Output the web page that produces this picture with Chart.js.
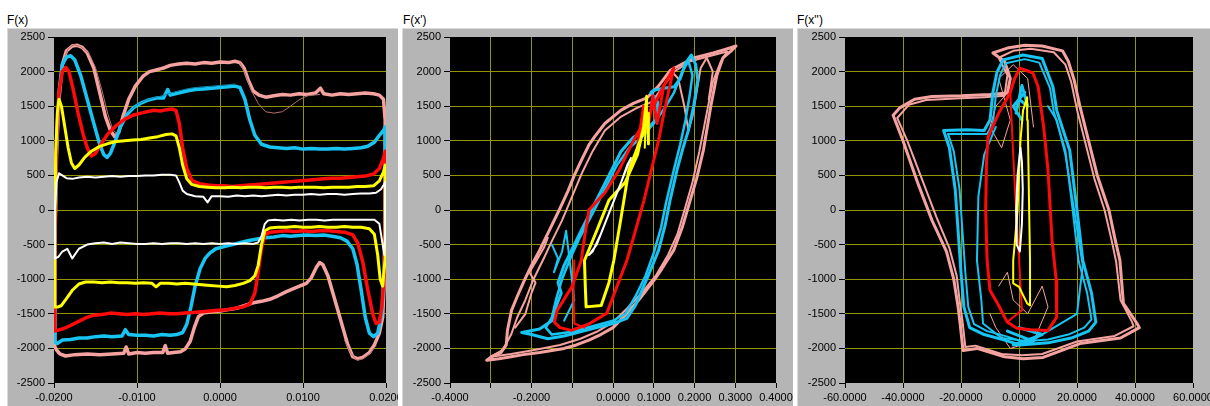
<!DOCTYPE html>
<html>
<head>
<meta charset="utf-8">
<script src="https://cdn.jsdelivr.net/npm/chart.js@4.4.1/dist/chart.umd.min.js"></script>
<style>
  html, body { margin: 0; padding: 0; background: #fff; }
  body { width: 1210px; height: 406px; position: relative; overflow: hidden; font-family: "Liberation Sans", Arial, sans-serif; }
  .title { position: absolute; top: 13px; font-size: 12px; color: #000; }
  .frame { position: absolute; top: 28px; height: 378px; background: #b5b5b5; box-shadow: inset 1px 1px 0 #d9d9d9; }
  .frame canvas { position: absolute; left: 0; top: 0; }
</style>
</head>
<body>
<div class="title" style="left:7px">F(x)</div>
<div class="title" style="left:403px">F(x')</div>
<div class="title" style="left:797px">F(x'')</div>
<div class="frame" style="left:7px;width:391px"><canvas id="fx" width="391" height="378"></canvas></div>
<div class="frame" style="left:402px;width:391px"><canvas id="fv" width="391" height="378"></canvas></div>
<div class="frame" style="left:797px;width:413px"><canvas id="fa" width="413" height="378"></canvas></div>
<script>
"use strict";

// ---------------- DATA: F vs x ----------------
const pinkFx = [[-0.0200,-1950],[-0.0199,-600],[-0.0197,800],[-0.0194,1600],[-0.0190,2100],[-0.0185,2300],[-0.0178,2370],[-0.0172,2380],[-0.0166,2350],[-0.0160,2270],[-0.0152,2050],[-0.0145,1700],[-0.0138,1350],[-0.0132,1150],[-0.0127,1060],[-0.0122,1120],[-0.0117,1350],[-0.0110,1600],[-0.0102,1790],[-0.0093,1930],[-0.0085,2000],[-0.0078,2020],[-0.0072,2040],[-0.0066,2060],[-0.0060,2090],[-0.0050,2110],[-0.0040,2120],[-0.0030,2110],[-0.0020,2130],[-0.0010,2120],[0.0000,2140],[0.0010,2130],[0.0018,2150],[0.0024,2130],[0.0029,2050],[0.0034,1880],[0.0040,1720],[0.0047,1660],[0.0055,1630],[0.0065,1650],[0.0075,1670],[0.0085,1660],[0.0095,1680],[0.0105,1670],[0.0115,1690],[0.0121,1760],[0.0125,1680],[0.0135,1660],[0.0145,1680],[0.0155,1670],[0.0165,1680],[0.0175,1690],[0.0185,1680],[0.0192,1660],[0.0197,1600],[0.0199,1300],[0.0199,200],[0.0198,-1000],[0.0196,-1550],[0.0192,-1780],[0.0186,-1950],[0.0180,-2060],[0.0172,-2130],[0.0166,-2150],[0.0160,-2120],[0.0154,-1950],[0.0148,-1700],[0.0142,-1450],[0.0136,-1200],[0.0130,-950],[0.0124,-790],[0.0120,-760],[0.0116,-830],[0.0110,-980],[0.0104,-1060],[0.0098,-1090],[0.0090,-1130],[0.0080,-1180],[0.0070,-1240],[0.0060,-1290],[0.0050,-1320],[0.0040,-1340],[0.0030,-1380],[0.0020,-1420],[0.0010,-1440],[0.0000,-1460],[-0.0010,-1470],[-0.0020,-1490],[-0.0026,-1540],[-0.0031,-1700],[-0.0036,-1900],[-0.0042,-2010],[-0.0048,-2050],[-0.0056,-2060],[-0.0063,-2070],[-0.0066,-1960],[-0.0069,-2060],[-0.0080,-2060],[-0.0090,-2070],[-0.0100,-2060],[-0.0110,-2080],[-0.0113,-1980],[-0.0116,-2070],[-0.0130,-2080],[-0.0145,-2090],[-0.0160,-2080],[-0.0175,-2090],[-0.0186,-2110],[-0.0193,-2080],[-0.0197,-2020],[-0.0200,-1950]];
const pinkFxThin = [[0.0024,2130],[0.0031,1950],[0.0038,1720],[0.0046,1540],[0.0055,1420],[0.0065,1400],[0.0075,1420],[0.0085,1500],[0.0095,1590],[0.0105,1650],[0.0120,1670]];
const pinkFxThin2 = [[-0.0189,2150],[-0.0183,2330],[-0.0176,2390],[-0.0168,2360],[-0.0158,2260],[-0.0150,2060],[-0.0142,1720],[-0.0135,1380],[-0.0129,1160],[-0.0124,1100]];
const pinkFxThin3 = [[0.0150,-1880],[0.0158,-2080],[0.0165,-2170],[0.0172,-2150],[0.0180,-2080],[0.0188,-1960]];
const cyanFx = [[-0.0200,-1900],[-0.0199,-500],[-0.0197,900],[-0.0194,1700],[-0.0190,2100],[-0.0185,2210],[-0.0180,2230],[-0.0175,2170],[-0.0168,1950],[-0.0160,1600],[-0.0152,1250],[-0.0145,950],[-0.0140,800],[-0.0136,760],[-0.0132,820],[-0.0126,1000],[-0.0120,1200],[-0.0112,1380],[-0.0104,1480],[-0.0096,1540],[-0.0086,1590],[-0.0076,1620],[-0.0068,1620],[-0.0063,1740],[-0.0060,1660],[-0.0050,1690],[-0.0040,1720],[-0.0030,1740],[-0.0020,1750],[-0.0010,1760],[0.0000,1770],[0.0010,1780],[0.0018,1790],[0.0024,1770],[0.0030,1600],[0.0036,1300],[0.0042,1080],[0.0050,950],[0.0060,910],[0.0070,900],[0.0080,890],[0.0090,900],[0.0100,880],[0.0110,890],[0.0120,880],[0.0130,880],[0.0140,890],[0.0150,880],[0.0160,890],[0.0170,900],[0.0178,920],[0.0186,980],[0.0192,1080],[0.0197,1150],[0.0199,1200],[0.0199,500],[0.0198,-800],[0.0195,-1500],[0.0190,-1780],[0.0185,-1830],[0.0180,-1780],[0.0175,-1550],[0.0170,-1150],[0.0165,-780],[0.0160,-560],[0.0153,-450],[0.0145,-400],[0.0135,-380],[0.0125,-360],[0.0115,-370],[0.0105,-360],[0.0095,-370],[0.0085,-380],[0.0075,-370],[0.0065,-390],[0.0055,-400],[0.0045,-420],[0.0035,-440],[0.0025,-470],[0.0015,-500],[0.0005,-530],[-0.0005,-560],[-0.0012,-620],[-0.0018,-700],[-0.0024,-850],[-0.0030,-1100],[-0.0035,-1400],[-0.0040,-1650],[-0.0045,-1770],[-0.0052,-1800],[-0.0060,-1810],[-0.0070,-1800],[-0.0080,-1820],[-0.0090,-1810],[-0.0100,-1810],[-0.0110,-1800],[-0.0114,-1730],[-0.0118,-1820],[-0.0130,-1830],[-0.0140,-1820],[-0.0150,-1830],[-0.0160,-1850],[-0.0170,-1850],[-0.0180,-1870],[-0.0190,-1880],[-0.0196,-1930],[-0.0200,-1900]];
const cyanFxThin = [[-0.0110,1420],[-0.0100,1520],[-0.0090,1580],[-0.0080,1620],[-0.0070,1650],[-0.0060,1690],[-0.0050,1720],[-0.0040,1750],[-0.0030,1770],[-0.0020,1780],[-0.0010,1790],[0.0000,1800],[0.0010,1810],[0.0018,1820]];
const redFx = [[-0.0200,-1750],[-0.0199,-300],[-0.0197,1000],[-0.0194,1700],[-0.0190,2000],[-0.0186,2060],[-0.0182,2000],[-0.0177,1750],[-0.0171,1400],[-0.0165,1100],[-0.0160,900],[-0.0155,780],[-0.0150,820],[-0.0143,960],[-0.0135,1100],[-0.0125,1220],[-0.0115,1310],[-0.0105,1370],[-0.0095,1400],[-0.0088,1420],[-0.0080,1440],[-0.0072,1430],[-0.0064,1450],[-0.0058,1460],[-0.0053,1440],[-0.0049,1250],[-0.0045,900],[-0.0040,600],[-0.0034,430],[-0.0025,380],[-0.0015,360],[-0.0005,350],[0.0005,350],[0.0015,340],[0.0025,350],[0.0035,360],[0.0045,370],[0.0055,380],[0.0065,390],[0.0075,400],[0.0085,410],[0.0095,420],[0.0105,430],[0.0115,440],[0.0125,450],[0.0135,460],[0.0145,460],[0.0155,470],[0.0165,480],[0.0175,490],[0.0185,520],[0.0192,600],[0.0197,750],[0.0199,850],[0.0199,0],[0.0198,-900],[0.0195,-1400],[0.0192,-1620],[0.0188,-1640],[0.0184,-1500],[0.0178,-1150],[0.0172,-750],[0.0166,-480],[0.0160,-360],[0.0150,-320],[0.0140,-310],[0.0130,-300],[0.0120,-300],[0.0110,-310],[0.0100,-300],[0.0090,-310],[0.0080,-300],[0.0070,-310],[0.0060,-320],[0.0054,-360],[0.0050,-550],[0.0046,-900],[0.0042,-1200],[0.0036,-1360],[0.0028,-1400],[0.0018,-1420],[0.0008,-1440],[-0.0002,-1450],[-0.0012,-1460],[-0.0022,-1470],[-0.0032,-1480],[-0.0042,-1490],[-0.0052,-1500],[-0.0062,-1500],[-0.0072,-1490],[-0.0082,-1500],[-0.0092,-1510],[-0.0102,-1500],[-0.0112,-1510],[-0.0122,-1500],[-0.0132,-1490],[-0.0142,-1510],[-0.0152,-1520],[-0.0162,-1560],[-0.0172,-1620],[-0.0182,-1680],[-0.0190,-1720],[-0.0196,-1740],[-0.0200,-1750]];
const yellowFx = [[-0.0200,-1400],[-0.0199,-200],[-0.0198,800],[-0.0196,1400],[-0.0194,1600],[-0.0191,1500],[-0.0187,1200],[-0.0183,900],[-0.0179,680],[-0.0175,600],[-0.0170,650],[-0.0163,760],[-0.0155,850],[-0.0145,920],[-0.0135,960],[-0.0125,990],[-0.0115,1000],[-0.0105,1010],[-0.0095,1020],[-0.0085,1040],[-0.0075,1060],[-0.0065,1090],[-0.0058,1100],[-0.0053,1070],[-0.0049,900],[-0.0045,650],[-0.0040,450],[-0.0034,370],[-0.0025,340],[-0.0015,330],[-0.0005,320],[0.0005,320],[0.0015,330],[0.0025,320],[0.0035,330],[0.0045,330],[0.0055,320],[0.0065,330],[0.0075,330],[0.0085,320],[0.0095,330],[0.0105,330],[0.0115,330],[0.0125,320],[0.0135,330],[0.0145,330],[0.0155,330],[0.0165,340],[0.0175,340],[0.0185,350],[0.0192,420],[0.0197,550],[0.0199,650],[0.0199,-700],[0.0196,-1100],[0.0193,-1000],[0.0190,-650],[0.0186,-350],[0.0180,-270],[0.0170,-250],[0.0160,-250],[0.0150,-240],[0.0140,-250],[0.0130,-250],[0.0120,-240],[0.0110,-250],[0.0100,-250],[0.0090,-240],[0.0080,-250],[0.0070,-250],[0.0060,-260],[0.0054,-300],[0.0050,-500],[0.0046,-800],[0.0042,-950],[0.0036,-1020],[0.0028,-1060],[0.0018,-1090],[0.0008,-1110],[-0.0002,-1100],[-0.0012,-1090],[-0.0022,-1080],[-0.0032,-1070],[-0.0042,-1060],[-0.0052,-1070],[-0.0062,-1060],[-0.0072,-1060],[-0.0077,-1110],[-0.0082,-1060],[-0.0092,-1050],[-0.0102,-1060],[-0.0112,-1050],[-0.0122,-1050],[-0.0132,-1040],[-0.0142,-1050],[-0.0152,-1040],[-0.0162,-1040],[-0.0170,-1070],[-0.0178,-1160],[-0.0185,-1280],[-0.0191,-1380],[-0.0195,-1400],[-0.0200,-1400]];
const whiteFx = [[-0.0200,-700],[-0.0199,0],[-0.0197,400],[-0.0194,530],[-0.0190,500],[-0.0185,460],[-0.0178,450],[-0.0170,470],[-0.0160,480],[-0.0150,470],[-0.0140,480],[-0.0130,490],[-0.0120,480],[-0.0110,490],[-0.0100,490],[-0.0090,500],[-0.0080,500],[-0.0070,510],[-0.0060,510],[-0.0053,500],[-0.0049,400],[-0.0045,280],[-0.0040,230],[-0.0030,200],[-0.0020,190],[-0.0015,110],[-0.0010,200],[0.0000,200],[0.0010,190],[0.0020,210],[0.0030,200],[0.0040,210],[0.0050,200],[0.0060,210],[0.0070,220],[0.0080,210],[0.0090,220],[0.0100,220],[0.0110,230],[0.0120,220],[0.0130,230],[0.0140,230],[0.0150,220],[0.0160,230],[0.0170,240],[0.0180,240],[0.0188,250],[0.0194,300],[0.0198,380],[0.0199,400],[0.0199,-300],[0.0198,-650],[0.0196,-500],[0.0192,-200],[0.0186,-140],[0.0176,-140],[0.0166,-140],[0.0156,-140],[0.0146,-140],[0.0136,-140],[0.0126,-150],[0.0116,-140],[0.0106,-140],[0.0096,-150],[0.0086,-140],[0.0076,-150],[0.0066,-140],[0.0058,-150],[0.0054,-200],[0.0050,-380],[0.0046,-470],[0.0040,-490],[0.0030,-480],[0.0020,-490],[0.0010,-480],[0.0000,-490],[-0.0010,-480],[-0.0020,-490],[-0.0030,-480],[-0.0040,-490],[-0.0050,-480],[-0.0060,-480],[-0.0070,-490],[-0.0080,-480],[-0.0090,-490],[-0.0100,-490],[-0.0110,-480],[-0.0120,-470],[-0.0130,-490],[-0.0140,-470],[-0.0150,-480],[-0.0160,-500],[-0.0170,-560],[-0.0178,-700],[-0.0184,-560],[-0.0190,-600],[-0.0195,-680],[-0.0200,-700]];

// ---------------- DATA: F vs x' ----------------
const pinkFv = [[-0.310,-2170],[-0.295,-2110],[-0.275,-2060],[-0.262,-1950],[-0.259,-1740],[-0.249,-1450],[-0.235,-1250],[-0.217,-1010],[-0.200,-800],[-0.180,-580],[-0.156,-290],[-0.132,0],[-0.110,280],[-0.095,500],[-0.075,750],[-0.059,940],[-0.045,1060],[-0.020,1250],[0.020,1444],[0.050,1540],[0.083,1620],[0.110,1780],[0.141,2020],[0.173,2120],[0.200,2200],[0.246,2270],[0.275,2320],[0.302,2370],[0.290,2300],[0.270,2200],[0.255,1950],[0.240,1500],[0.222,870],[0.205,450],[0.190,150],[0.170,-250],[0.149,-580],[0.120,-850],[0.100,-1020],[0.063,-1300],[0.030,-1520],[0.000,-1700],[-0.030,-1800],[-0.059,-1880],[-0.090,-1950],[-0.120,-2000],[-0.180,-2060],[-0.220,-2090],[-0.250,-2120],[-0.280,-2150],[-0.310,-2170]];
const pinkFv2 = [[-0.300,-2120],[-0.270,-2020],[-0.250,-1800],[-0.235,-1550],[-0.215,-1300],[-0.195,-1000],[-0.170,-700],[-0.150,-450],[-0.125,-150],[-0.100,200],[-0.075,550],[-0.050,850],[-0.020,1150],[0.020,1350],[0.060,1480],[0.095,1560],[0.125,1800],[0.150,2000],[0.190,2150],[0.240,2230],[0.280,2290],[0.265,2150],[0.245,1850],[0.230,1400],[0.212,850],[0.195,400],[0.178,50],[0.158,-350],[0.135,-650],[0.105,-950],[0.070,-1200],[0.035,-1420],[0.000,-1620],[-0.040,-1760],[-0.080,-1860],[-0.130,-1950],[-0.190,-2020],[-0.250,-2080],[-0.300,-2120]];
const pinkFvLeft = [[-0.240,-1700],[-0.215,-1500],[-0.200,-1200],[-0.190,-1050],[-0.205,-900],[-0.185,-700],[-0.170,-550],[-0.160,-400]];
const pinkFvTop = [[0.141,2020],[0.160,1900],[0.175,1500],[0.185,1150],[0.195,1350],[0.205,1700],[0.215,2050],[0.230,2200],[0.245,2000],[0.235,1600]];
const cyanFv = [[-0.160,-1860],[-0.120,-1820],[-0.080,-1760],[-0.040,-1700],[0.000,-1640],[0.034,-1565],[0.055,-1380],[0.068,-1200],[0.090,-900],[0.112,-580],[0.128,-220],[0.140,140],[0.158,600],[0.172,900],[0.185,1150],[0.198,1500],[0.208,1880],[0.203,2100],[0.192,2240],[0.178,2120],[0.165,1900],[0.150,1780],[0.125,1760],[0.100,1730],[0.093,1700],[0.110,1560],[0.105,1300],[0.080,1150],[0.050,1050],[0.020,850],[-0.010,500],[-0.040,150],[-0.070,-200],[-0.095,-500],[-0.120,-800],[-0.135,-1050],[-0.127,-1200],[-0.140,-1400],[-0.150,-1600],[-0.180,-1720],[-0.224,-1770],[-0.200,-1800],[-0.160,-1860]];
const cyanFv2 = [[-0.150,-1800],[-0.100,-1760],[-0.050,-1680],[0.000,-1600],[0.030,-1500],[0.055,-1250],[0.080,-950],[0.100,-620],[0.118,-250],[0.130,100],[0.148,550],[0.165,950],[0.178,1300],[0.188,1650],[0.195,1950],[0.185,2150],[0.170,2000],[0.150,1700],[0.130,1500],[0.100,1250],[0.070,1050],[0.040,900],[0.010,650],[-0.020,300],[-0.050,-50],[-0.080,-380],[-0.105,-700],[-0.125,-1000],[-0.140,-1300],[-0.150,-1550],[-0.165,-1700],[-0.150,-1800]];
const cyanFvLeft = [[-0.150,-500],[-0.135,-700],[-0.145,-900],[-0.125,-600],[-0.115,-300],[-0.105,-800],[-0.095,-1300],[-0.120,-1600]];
const redFv = [[0.149,2050],[0.125,1800],[0.107,1590],[0.083,1340],[0.050,1000],[0.015,580],[-0.020,250],[-0.059,0],[-0.070,-400],[-0.078,-730],[-0.100,-1100],[-0.137,-1450],[-0.144,-1620],[-0.130,-1700],[-0.102,-1740],[-0.060,-1650],[-0.015,-1490],[0.010,-1100],[0.034,-730],[0.055,-300],[0.076,140],[0.095,600],[0.112,1010],[0.125,1400],[0.137,1730],[0.149,2050]];
const redFvInner = [[-0.095,-730],[-0.097,-1200],[-0.095,-1640],[-0.070,-1700]];
const redFvTop = [[0.060,900],[0.075,1500],[0.085,1150],[0.098,1650],[0.108,1250],[0.125,1800]];
const yellowFv = [[0.083,1630],[0.075,1200],[0.060,800],[0.030,400],[-0.010,140],[-0.040,-300],[-0.070,-730],[-0.068,-1100],[-0.066,-1400],[-0.029,-1380],[-0.010,-1050],[0.002,-730],[0.020,-100],[0.039,580],[0.060,900],[0.076,1150],[0.083,1630]];
const yellowFvSpike = [[0.078,900],[0.082,1650],[0.086,950],[0.088,1400]];
const whiteFv = [[0.044,750],[0.030,550],[0.010,250],[-0.010,-50],[-0.030,-350],[-0.050,-600],[-0.059,-650],[-0.040,-500],[-0.020,-200],[0.000,100],[0.020,400],[0.035,650],[0.044,750]];

// ---------------- DATA: F vs x'' ----------------
const pinkFa = [[-43.4,1370],[-41.0,1480],[-36.0,1600],[-30.0,1640],[-20.0,1650],[-10.0,1670],[-4.0,1690],[-3.0,1900],[-5.0,2150],[-9.0,2270],[-4.0,2340],[2.0,2380],[8.0,2370],[15.0,2300],[17.0,2150],[19.0,1880],[21.0,1500],[24.0,1000],[27.0,500],[31.0,0],[33.0,-400],[34.8,-727],[36.0,-1350],[40.7,-1640],[41.5,-1700],[35.0,-1850],[21.0,-1930],[8.3,-2130],[1.4,-2150],[-5.0,-2120],[-14.5,-2000],[-19.3,-2030],[-20.3,-1640],[-21.0,-1400],[-22.5,-1000],[-25.0,-600],[-30.0,-150],[-35.0,400],[-40.0,1000],[-43.4,1370]];
const pinkFa2 = [[-42.0,1330],[-38.0,1520],[-32.0,1590],[-22.0,1610],[-12.0,1630],[-5.0,1650],[-4.0,1950],[-7.0,2200],[-2.0,2300],[4.0,2330],[12.0,2280],[16.0,2100],[18.0,1850],[20.0,1450],[23.0,950],[26.0,450],[29.5,0],[32.0,-450],[33.5,-750],[35.0,-1300],[39.0,-1620],[39.5,-1680],[33.0,-1820],[20.0,-1900],[8.0,-2080],[1.0,-2100],[-6.0,-2080],[-15.0,-1960],[-18.5,-1980],[-19.5,-1600],[-20.5,-1300],[-21.5,-950],[-24.0,-550],[-28.5,-100],[-33.5,450],[-38.5,1000],[-42.0,1330]];
const pinkFaTop = [[-4.0,1690],[-8.0,1500],[-10.0,1200],[-6.0,900],[-3.0,1300],[-7.0,1900],[-2.0,2100],[3.0,1900],[5.0,1200]];
const pinkFaLow = [[-7.0,-1100],[-4.0,-900],[-2.0,-1300],[3.0,-1500],[8.0,-1100],[10.0,-1400],[5.0,-1900],[-3.0,-2000],[-8.0,-1700],[-10.0,-1500]];
const cyanFa = [[1.4,2240],[-5.5,2170],[-7.6,1990],[-9.0,1700],[-10.0,1300],[-12.0,1150],[-18.0,1160],[-26.0,1150],[-24.0,900],[-22.0,300],[-21.0,-300],[-20.0,-900],[-19.0,-1400],[-17.0,-1700],[-12.0,-1800],[-5.0,-1880],[0.3,-1950],[10.0,-1920],[18.0,-1850],[24.0,-1750],[26.5,-1620],[25.0,-1200],[22.0,-727],[20.0,0],[17.5,860],[13.0,1440],[11.7,1780],[8.0,2190],[1.4,2240]];
const cyanFa2 = [[2.0,2180],[-4.5,2120],[-6.5,1950],[-8.0,1650],[-9.0,1250],[-11.0,1100],[-18.0,1100],[-24.5,1100],[-22.5,850],[-20.5,300],[-19.5,-300],[-18.5,-900],[-17.5,-1400],[-15.5,-1650],[-11.0,-1750],[-4.0,-1830],[1.0,-1900],[10.0,-1870],[17.0,-1800],[22.5,-1700],[25.0,-1580],[23.5,-1200],[20.5,-727],[18.5,0],[16.0,860],[12.0,1420],[10.7,1760],[7.0,2130],[2.0,2180]];
const cyanFaInner = [[-8.0,1200],[-12.0,800],[-14.0,200],[-14.5,-727],[-13.0,-1300],[-12.4,-1640],[-6.0,-1850],[4.0,-1900],[12.0,-1700],[20.0,-1500],[22.0,-800],[19.0,0],[16.0,800],[13.0,1300],[10.0,1500]];
const cyanFaTopBlob = [[-1.0,1400],[1.0,1800],[3.0,1500],[0.0,1600],[2.0,1700],[-2.0,1500],[1.0,1300]];
const cyanFaLowBlob = [[-4.0,-1750],[5.0,-1900],[-2.0,-1950],[8.0,-1800],[0.0,-1700]];
const redFa = [[0.3,2050],[4.8,1980],[6.6,1780],[8.5,1200],[10.0,575],[11.4,-440],[12.8,-1000],[13.0,-1550],[10.0,-1740],[4.0,-1730],[-0.7,-1710],[-4.1,-1620],[-7.0,-1380],[-10.0,-1160],[-11.0,-727],[-11.5,0],[-11.2,700],[-10.7,1050],[-7.0,1400],[-3.1,1690],[-1.5,1900],[0.3,2050]];
const redFaInner = [[-3.0,1700],[-2.0,800],[-1.0,0],[0.0,-700],[1.0,-1450],[-4.1,-1620]];
const yellowFa = [[2.8,1630],[1.4,1440],[0.5,1000],[0.0,500],[-0.5,0],[-1.5,-500],[-2.0,-727],[-2.0,-1060],[0.0,-1110],[2.8,-1350],[3.8,-1380],[3.8,-727],[3.5,0],[3.2,800],[3.0,1300],[2.8,1630]];
const whiteFa = [[0.5,900],[-0.5,500],[-1.0,0],[-0.8,-500],[0.3,-600],[1.0,-200],[1.3,300],[1.0,700],[0.5,900]];

// ---------------- STYLE ----------------
const PINK = "#f5a3a0";
const PINK_DARK = "#b46e6c";
const CYAN = "#18c4f2";
const CYAN_DARK = "#1284ad";
const RED = "#ff0a0a";
const YELLOW = "#ffff00";
const WHITE = "#ffffff";
const GRID = "#949400";
const TICK_FONT = { family: "Liberation Sans", size: 11 };

const trace = (pts, color, width) => ({
  data: pts.map(([x, y]) => ({ x, y })),
  showLine: true,
  borderColor: color,
  borderWidth: width,
  pointRadius: 0,
  tension: 0,
  borderJoinStyle: "round",
  borderCapStyle: "round",
});

// black plotting area
const plotBg = {
  id: "plotBg",
  beforeDraw(chart) {
    const a = chart.chartArea;
    const c = chart.ctx;
    c.save();
    c.fillStyle = "#000";
    c.fillRect(a.left, a.top, a.right - a.left, a.bottom - a.top);
    c.restore();
  },
};

function fixedLabel(v) {
  let r = Math.round(v * 10000) / 10000;
  if (Math.abs(r) < 1e-9) r = 0;
  return r.toFixed(4);
}

// hide grid lines that sit on the plot border
const gridColor = (ctx) => {
  const s = ctx.scale;
  if (!ctx.tick) return GRID;
  const v = ctx.tick.value;
  return Math.abs(v - s.min) < 1e-9 || Math.abs(v - s.max) < 1e-9 ? "rgba(0,0,0,0)" : GRID;
};

function makeChart(id, xMin, xMax, xStep, padRight, yWidth, label, datasets) {
  const ctx = document.getElementById(id).getContext("2d");
  return new Chart(ctx, {
    type: "scatter",
    data: { datasets },
    plugins: [plotBg],
    options: {
      responsive: false,
      animation: false,
      events: [],
      layout: { padding: { top: 9, right: padRight, left: 0, bottom: 0 } },
      plugins: { legend: { display: false }, tooltip: { enabled: false } },
      scales: {
        x: {
          type: "linear",
          min: xMin,
          max: xMax,
          border: { display: false },
          grid: { color: gridColor, tickColor: "#000", tickLength: 5, lineWidth: 1 },
          ticks: {
            stepSize: xStep,
            autoSkip: false,
            maxRotation: 0,
            minRotation: 0,
            padding: 3,
            color: "#000",
            font: TICK_FONT,
            callback: label,
          },
          afterFit: (s) => {
            s.height = 23;
            s.paddingLeft = 0;
            s.paddingRight = 0;
          },
        },
        y: {
          type: "linear",
          min: -2500,
          max: 2500,
          border: { display: false },
          grid: { color: gridColor, tickColor: "#000", tickLength: 6, lineWidth: 1 },
          ticks: {
            stepSize: 500,
            padding: 3,
            color: "#000",
            font: TICK_FONT,
            callback: (v) => String(Math.round(v)),
          },
          afterFit: (s) => {
            s.width = yWidth;
            s.paddingTop = 0;
            s.paddingBottom = 0;
          },
        },
      },
    },
  });
}

// ---------------- CHARTS ----------------
makeChart("fx", -0.02, 0.02, 0.01, 12, 47, fixedLabel, [
  trace(whiteFx, WHITE, 2),
  trace(yellowFx, YELLOW, 3),
  trace(redFx, RED, 3.5),
  trace(cyanFxThin, CYAN_DARK, 1),
  trace(cyanFx, CYAN, 3.5),
  trace(pinkFxThin, PINK_DARK, 1),
  trace(pinkFxThin2, PINK_DARK, 1),
  trace(pinkFxThin3, PINK_DARK, 1),
  trace(pinkFx, PINK, 3.5),
]);

makeChart("fv", -0.4, 0.4, 0.1, 17, 48,
  (v) => {
    const k = Math.round(v * 10);
    return k === -3 || k === -1 ? "" : fixedLabel(v);
  },
  [
    trace(whiteFv, WHITE, 2),
    trace(yellowFv, YELLOW, 3),
    trace(yellowFvSpike, YELLOW, 2),
    trace(redFv, RED, 3),
    trace(redFvInner, RED, 2),
    trace(redFvTop, RED, 3),
    trace(cyanFv, CYAN, 3),
    trace(cyanFv2, CYAN, 2.5),
    trace(cyanFvLeft, CYAN, 2),
    trace(pinkFvLeft, PINK, 2),
    trace(pinkFvTop, PINK, 2),
    trace(pinkFv2, PINK, 2),
    trace(pinkFv, PINK, 3),
  ]
);

makeChart("fa", -60, 60, 20, 17, 48, fixedLabel, [
  trace(whiteFa, WHITE, 2),
  trace(yellowFa, YELLOW, 2),
  trace(redFaInner, RED, 2),
  trace(redFa, RED, 3),
  trace(cyanFaTopBlob, CYAN, 3),
  trace(cyanFaLowBlob, CYAN, 3),
  trace(cyanFaInner, CYAN, 2),
  trace(cyanFa2, CYAN, 2),
  trace(cyanFa, CYAN, 3),
  trace(pinkFaTop, PINK, 1),
  trace(pinkFaLow, PINK, 1),
  trace(pinkFa2, PINK, 2),
  trace(pinkFa, PINK, 3),
]);
</script>
</body>
</html>
